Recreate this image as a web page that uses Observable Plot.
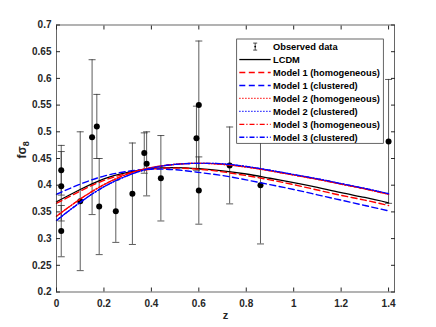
<!DOCTYPE html>
<html><head><meta charset="utf-8">
<script src="https://cdn.jsdelivr.net/npm/d3@7"></script>
<script src="https://cdn.jsdelivr.net/npm/@observablehq/plot@0.6"></script>
<style>body{margin:0;background:#fff;}</style>
</head><body><div id="chart"></div>
<script>
// ---- data ----
const zGrid = [0, 0.1, 0.2, 0.3, 0.4, 0.5, 0.6, 0.7, 0.8, 0.9, 1.0, 1.1, 1.2, 1.3, 1.4];
const lcdm = [0.369, 0.392, 0.412, 0.424, 0.431, 0.433, 0.431, 0.427, 0.421, 0.413, 0.405, 0.396, 0.386, 0.377, 0.367];
const model1Hom = [0.366, 0.389, 0.409, 0.422, 0.430, 0.432, 0.430, 0.425, 0.418, 0.410, 0.401, 0.391, 0.381, 0.372, 0.362];
const model1Clu = [0.383, 0.402, 0.417, 0.426, 0.430, 0.429, 0.424, 0.418, 0.410, 0.401, 0.392, 0.382, 0.372, 0.362, 0.352];
const model2Hom = [0.342, 0.374, 0.401, 0.421, 0.433, 0.439, 0.441, 0.439, 0.434, 0.427, 0.419, 0.411, 0.402, 0.393, 0.383];
const model2Clu = [0.334, 0.368, 0.397, 0.418, 0.432, 0.439, 0.441, 0.440, 0.435, 0.428, 0.420, 0.412, 0.403, 0.394, 0.384];
const model3Hom = [0.342, 0.374, 0.401, 0.421, 0.433, 0.439, 0.441, 0.439, 0.434, 0.427, 0.419, 0.411, 0.402, 0.393, 0.383];
const model3Clu = [0.334, 0.368, 0.397, 0.418, 0.432, 0.439, 0.441, 0.440, 0.435, 0.428, 0.420, 0.412, 0.403, 0.394, 0.384];

const obsZ   = [0.02, 0.02, 0.02, 0.1, 0.15, 0.17, 0.18, 0.25, 0.32, 0.37, 0.38, 0.44, 0.59, 0.6, 0.6, 0.73, 0.86, 1.4];
const obsF   = [0.398, 0.428, 0.314, 0.37, 0.49, 0.51, 0.36, 0.3512, 0.384, 0.4602, 0.44, 0.413, 0.488, 0.39, 0.55, 0.437, 0.40, 0.482];
const obsErr = [0.065, 0.0465, 0.048, 0.13, 0.145, 0.06, 0.09, 0.0583, 0.095, 0.0378, 0.06, 0.08, 0.06, 0.063, 0.12, 0.072, 0.11, 0.116];

const xTicks = [0, 0.2, 0.4, 0.6, 0.8, 1, 1.2, 1.4];
const yTicks = [0.2, 0.25, 0.3, 0.35, 0.4, 0.45, 0.5, 0.55, 0.6, 0.65, 0.7];

const seriesNames = ["LCDM", "Model 1 (homogeneous)", "Model 1 (clustered)", "Model 2 (homogeneous)",
  "Model 2 (clustered)", "Model 3 (homogeneous)", "Model 3 (clustered)"];
const seriesValues = [lcdm, model1Hom, model1Clu, model2Hom, model2Clu, model3Hom, model3Clu];
const seriesColors = ["#000000", "#ff0000", "#0000ff", "#ff0000", "#0000ff", "#ff0000", "#0000ff"];
const seriesDash = [null, "6,3.5", "6,3.5", "1.2,1.8", "1.2,1.8", "5,2,1.2,2", "5,2,1.2,2"];
const seriesWidth = [1.3, 1.4, 1.4, 1.3, 1.3, 1.3, 1.3];

// ---- build ----
const obs = obsZ.map((z, i) => ({z, f: obsF[i], e: obsErr[i]}));
const capSymbol = {draw(ctx, size) { const w = Math.sqrt(size / Math.PI); ctx.moveTo(-w, 0); ctx.lineTo(w, 0); }};

const lineMarks = seriesValues.map((vals, k) =>
  Plot.line(zGrid.map((z, i) => ({z, v: vals[i]})), {
    x: "z", y: "v", curve: "natural",
    stroke: seriesColors[k], strokeWidth: seriesWidth[k],
    strokeDasharray: seriesDash[k]
  }));

const fmtY = d => String(+d.toFixed(2));

const chart = Plot.plot({
  width: 436, height: 327,
  marginLeft: 56, marginRight: 42, marginTop: 24.5, marginBottom: 35.5,
  style: {fontFamily: "'Liberation Sans', Arial, sans-serif", fontSize: "10px", fontWeight: "bold", color: "#262626", background: "white"},
  x: {domain: [0, 1.425], label: null},
  y: {domain: [0.2, 0.7], label: null},
  marks: [
    Plot.ruleX(obs, {x: "z", y1: d => d.f - d.e, y2: d => d.f + d.e, stroke: "#333", strokeWidth: 0.8}),
    Plot.dot(obs, {x: "z", y: d => d.f + d.e, symbol: capSymbol, r: 3.5, stroke: "#333", strokeWidth: 0.8, fill: "none"}),
    Plot.dot(obs, {x: "z", y: d => d.f - d.e, symbol: capSymbol, r: 3.5, stroke: "#333", strokeWidth: 0.8, fill: "none"}),
    Plot.dot(obs, {x: "z", y: "f", r: 3, fill: "black", stroke: "none"}),
    ...lineMarks,
    Plot.frame({stroke: "#262626", strokeWidth: 0.7}),
    Plot.axisX(xTicks, {anchor: "bottom", tickSize: -4, tickPadding: 11.7, tickFormat: d => String(d), label: null, stroke: "#262626"}),
    Plot.axisX(xTicks, {anchor: "top", tickSize: -4, tickFormat: () => "", label: null, stroke: "#262626"}),
    Plot.axisY(yTicks, {anchor: "left", tickSize: -4, tickPadding: 9, tickFormat: fmtY, label: null, stroke: "#262626"}),
    Plot.axisY(yTicks, {anchor: "right", tickSize: -4, tickFormat: () => "", label: null, stroke: "#262626"}),
    Plot.text(["z"], {text: d => d, frameAnchor: "bottom", dy: 26.5, fontSize: 11, fontWeight: "bold", fill: "#262626"}),
    Plot.text(["fσ8"], {text: d => d, frameAnchor: "left", dx: -34, rotate: -90, fontSize: 12, fontWeight: "bold", fill: "#262626"})
  ]
});
document.getElementById("chart").appendChild(chart);

const svg = d3.select(chart);
// subscript for y label
svg.selectAll("text").filter(function() { return this.textContent === "fσ8"; }).each(function() {
  const t = d3.select(this);
  t.text(null);
  t.append("tspan").text("fσ");
  t.append("tspan").attr("font-size", 9).attr("dy", "0.3em").text("8");
});

// legend
const lg = svg.append("g").attr("transform", "translate(236.7,39)")
  .attr("text-anchor", "start")
  .style("font-family", "'Liberation Sans', Arial, sans-serif").style("font-weight", "bold").style("font-size", "9.3px");
lg.append("rect").attr("width", 146.6).attr("height", 104.3).attr("fill", "white").attr("stroke", "#262626").attr("stroke-width", 0.7);
const rowY = i => 7.6 + i * 12.95;
// observed data entry
const oy = rowY(0);
lg.append("line").attr("x1", 18.5).attr("x2", 18.5).attr("y1", oy - 3.5).attr("y2", oy + 3.5).attr("stroke", "#222").attr("stroke-width", 0.8);
lg.append("line").attr("x1", 16.5).attr("x2", 20.5).attr("y1", oy - 3.5).attr("y2", oy - 3.5).attr("stroke", "#222").attr("stroke-width", 0.8);
lg.append("line").attr("x1", 16.5).attr("x2", 20.5).attr("y1", oy + 3.5).attr("y2", oy + 3.5).attr("stroke", "#222").attr("stroke-width", 0.8);
lg.append("circle").attr("cx", 18.5).attr("cy", oy).attr("r", 0.9).attr("fill", "#000");
lg.append("text").attr("x", 36.3).attr("y", oy + 3.3).attr("text-anchor", "start").attr("fill", "#000").text("Observed data");
seriesNames.forEach((name, k) => {
  const y = rowY(k + 1);
  const ln = lg.append("line").attr("x1", 2.6).attr("x2", 34).attr("y1", y).attr("y2", y)
    .attr("stroke", seriesColors[k]).attr("stroke-width", seriesWidth[k]);
  if (seriesDash[k]) ln.attr("stroke-dasharray", seriesDash[k]);
  lg.append("text").attr("x", 36.3).attr("y", y + 3.3).attr("text-anchor", "start").attr("fill", "#000").text(name);
});
</script>
</body></html>
